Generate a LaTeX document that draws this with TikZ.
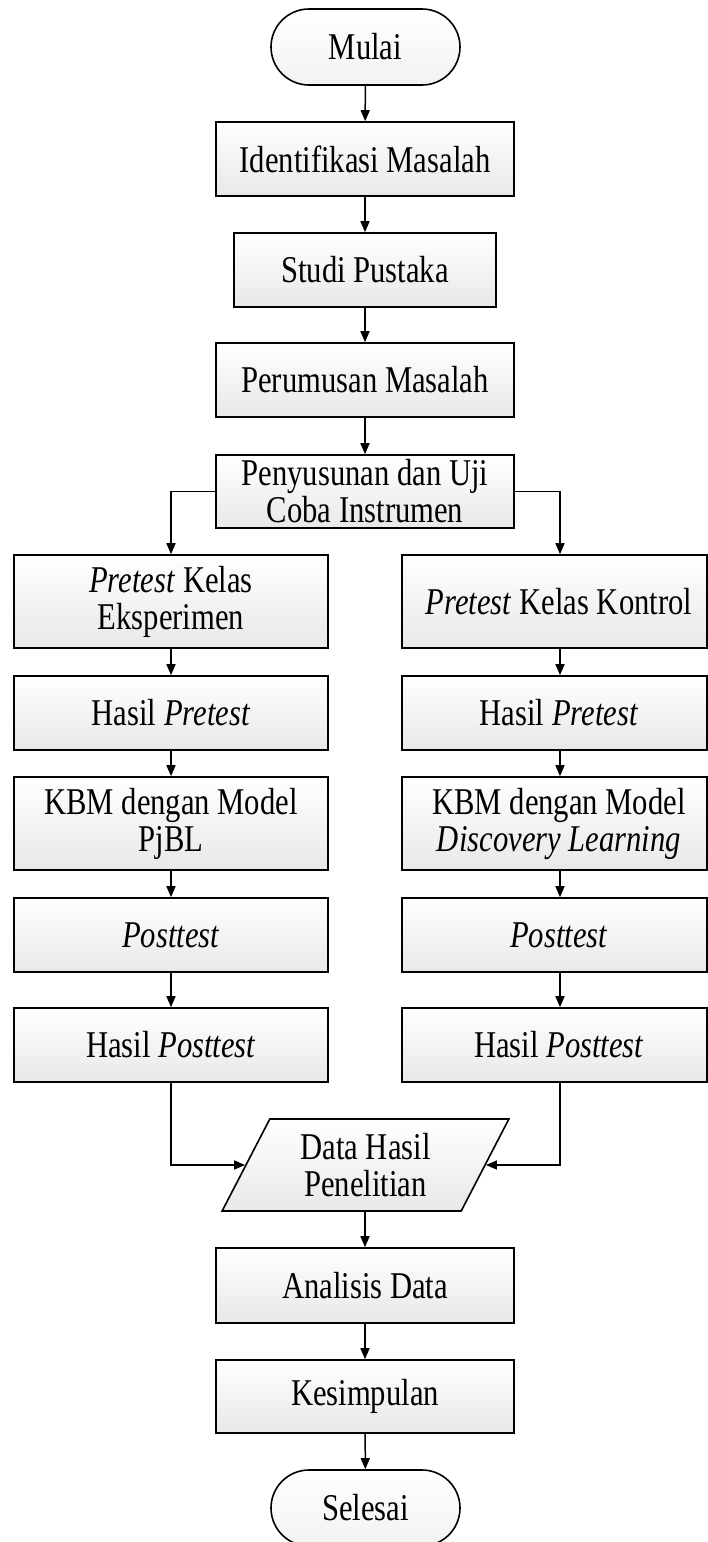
\documentclass[tikz,border=0pt]{standalone}
\usepackage{fontspec}
\setmainfont{Liberation Serif}[FakeStretch=0.81]
\usetikzlibrary{arrows.meta,shapes.geometric}
\begin{document}
\begin{tikzpicture}[x=1pt,y=-1pt,
  every node/.style={font=\fontsize{37.8}{37}\selectfont, inner sep=0pt, align=center},
  base/.style={draw, line width=1.6pt, top color=white, bottom color=black!9},
  pbox/.style={base, rectangle, minimum height=74pt},
  term/.style={draw, line width=1.6pt, top color=white, bottom color=black!5, rectangle, rounded corners=38pt, minimum width=189pt, minimum height=76pt},
  flow/.style={line width=1.5pt, -{Triangle[length=11pt,width=9pt]}},
  rtext/.style={label={[align=center, xshift=4.5pt, font=\fontsize{37.8}{37}\selectfont]center:{#1}}}
]
\useasboundingbox (0,0) rectangle (708,1542);
\clip (0,0) rectangle (708,1542);

\coordinate (rcol) at (560,0);

\node[term] (mulai) at (365.5,47) {Mulai};
\node[pbox, minimum width=298pt] (ident) at (365,159) {Identifikasi Masalah};
\node[pbox, minimum width=262pt] (studi) at (365,270) {Studi Pustaka};
\node[pbox, minimum width=298pt] (perum) at (365,380) {Perumusan Masalah};
\node[pbox, minimum width=298pt, minimum height=73pt] (penyus) at (365,491.5) {Penyusunan dan Uji\\Coba Instrumen};

\node[pbox, minimum width=314pt, minimum height=93pt] (prE) at (171,601.5) {\textit{Pretest} Kelas\\Eksperimen};
\node[pbox, minimum width=314pt] (hpE) at (171,713) {Hasil \textit{Pretest}};
\node[pbox, minimum width=314pt, minimum height=93pt] (kbmE) at (171,823.5) {KBM dengan Model\\PjBL};
\node[pbox, minimum width=314pt] (poE) at (171,935) {\textit{Posttest}};
\node[pbox, minimum width=314pt] (hpoE) at (171,1045) {Hasil \textit{Posttest}};

\node[pbox, minimum width=305pt, minimum height=93pt, rtext={\textit{Pretest} Kelas Kontrol}] (prK) at (554.5,601.5) {};
\node[pbox, minimum width=305pt, rtext={Hasil \textit{Pretest}}] (hpK) at (554.5,713) {};
\node[pbox, minimum width=305pt, minimum height=93pt, rtext={KBM dengan Model\\\textit{Discovery Learning}}] (kbmK) at (554.5,823.5) {};
\node[pbox, minimum width=305pt, rtext={\textit{Posttest}}] (poK) at (554.5,935) {};
\node[pbox, minimum width=305pt, rtext={Hasil \textit{Posttest}}] (hpoK) at (554.5,1045) {};

\node[base, trapezium, trapezium left angle=63, trapezium right angle=117, trapezium stretches=true, minimum width=287pt, minimum height=92pt] (data) at (365.5,1165) {Data Hasil\\Penelitian};

\node[pbox, minimum width=298pt, minimum height=75pt] (anal) at (365,1285.5) {Analisis Data};
\node[pbox, minimum width=298pt, minimum height=73pt] (kes) at (365,1396.5) {Kesimpulan};
\node[term] (sel) at (365.5,1508) {Selesai};

\draw[flow] (mulai) -- (ident);
\draw[flow] (ident) -- (studi);
\draw[flow] (studi) -- (perum);
\draw[flow] (perum) -- (penyus);
\draw[flow] (penyus.west) -| (prE.north);
\draw[flow] (penyus.east) -| (rcol |- prK.north);

\draw[flow] (prE) -- (hpE);
\draw[flow] (hpE) -- (kbmE);
\draw[flow] (kbmE) -- (poE);
\draw[flow] (poE) -- (hpoE);

\draw[flow] (rcol |- prK.south) -- (rcol |- hpK.north);
\draw[flow] (rcol |- hpK.south) -- (rcol |- kbmK.north);
\draw[flow] (rcol |- kbmK.south) -- (rcol |- poK.north);
\draw[flow] (rcol |- poK.south) -- (rcol |- hpoK.north);

\draw[flow] (hpoE.south) |- (data.west);
\draw[flow] (rcol |- hpoK.south) |- (data.east);

\draw[flow] (data.south -| anal.north) -- (anal.north);
\draw[flow] (anal) -- (kes);
\draw[flow] (kes) -- (sel);
\end{tikzpicture}
\end{document}
